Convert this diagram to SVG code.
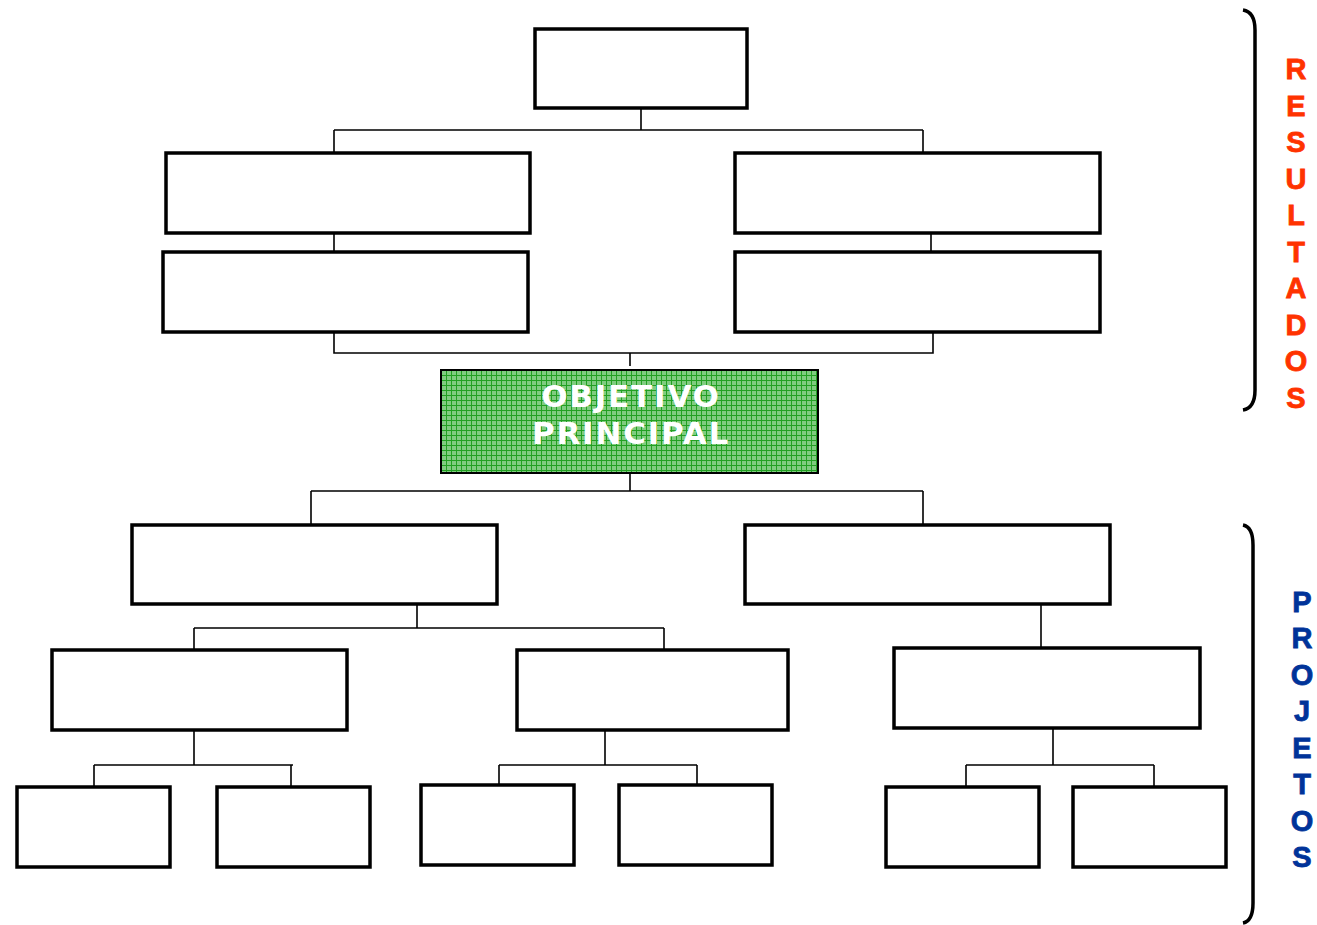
<svg xmlns="http://www.w3.org/2000/svg" width="1317" height="925" viewBox="0 0 1317 925">
<style>
.box{fill:#fff;stroke:#000;stroke-width:3.5}
.ln{fill:none;stroke:#000;stroke-width:1.6}
.br{fill:none;stroke:#000;stroke-width:3.5}
.res{font-family:"Liberation Sans",Arial,sans-serif;font-weight:bold;font-size:29px;fill:#FF3300;stroke:#FF3300;stroke-width:0.8;text-anchor:middle}
.prj{font-family:"Liberation Sans",Arial,sans-serif;font-weight:bold;font-size:29px;fill:#003399;stroke:#003399;stroke-width:0.8;text-anchor:middle}
.obj{font-family:"DejaVu Sans",Verdana,sans-serif;font-weight:bold;font-size:31px;letter-spacing:1.8px;fill:#fff;text-anchor:middle}
</style>
<defs>
<pattern id="grid" x="441" y="370" width="5" height="5" patternUnits="userSpaceOnUse">
<rect width="5" height="5" fill="#80CC80"/>
<path d="M0 0.5H5M0.5 0V5" stroke="#22A022" stroke-width="1"/>
</pattern>
</defs>
<rect width="1317" height="925" fill="#fff"/>
<g id="connectors">
<path class="ln" d="M641 108V130M334 130H923M334 130V153M923 130V153"/>
<path class="ln" d="M334 233V252M931 233V252"/>
<path class="ln" d="M334 332V353H933V332M630 353V366"/>
<path class="ln" d="M630 473V491M311 491H923M311 491V525M923 491V525"/>
<path class="ln" d="M417 604V628M194 628H664M194 628V650M664 628V650"/>
<path class="ln" d="M1041 604V648"/>
<path class="ln" d="M194 730V765M94 765H293M94 765V787M291 765V787"/>
<path class="ln" d="M605 730V765M499 765H697M499 765V785M697 765V785"/>
<path class="ln" d="M1053 728V765M966 765H1154M966 765V787M1154 765V787"/>
</g>
<g id="n-top"><rect class="box" x="535" y="29" width="212" height="79"/></g>
<g id="n-r2-left"><rect class="box" x="166" y="153" width="364" height="80"/></g>
<g id="n-r2-right"><rect class="box" x="735" y="153" width="365" height="80"/></g>
<g id="n-r3-left"><rect class="box" x="163" y="252" width="365" height="80"/></g>
<g id="n-r3-right"><rect class="box" x="735" y="252" width="365" height="80"/></g>
<g id="n-objetivo">
<rect x="441" y="370" width="377" height="103" fill="url(#grid)" stroke="#000" stroke-width="2"/>
<text class="obj" x="631" y="407">OBJETIVO</text>
<text class="obj" x="631" y="444">PRINCIPAL</text>
</g>
<g id="n-p1-left"><rect class="box" x="132" y="525" width="365" height="79"/></g>
<g id="n-p1-right"><rect class="box" x="745" y="525" width="365" height="79"/></g>
<g id="n-p2-a"><rect class="box" x="52" y="650" width="295" height="80"/></g>
<g id="n-p2-b"><rect class="box" x="517" y="650" width="271" height="80"/></g>
<g id="n-p2-c"><rect class="box" x="894" y="648" width="306" height="80"/></g>
<g id="n-p3-a1"><rect class="box" x="17" y="787" width="153" height="80"/></g>
<g id="n-p3-a2"><rect class="box" x="217" y="787" width="153" height="80"/></g>
<g id="n-p3-b1"><rect class="box" x="421" y="785" width="153" height="80"/></g>
<g id="n-p3-b2"><rect class="box" x="619" y="785" width="153" height="80"/></g>
<g id="n-p3-c1"><rect class="box" x="886" y="787" width="153" height="80"/></g>
<g id="n-p3-c2"><rect class="box" x="1073" y="787" width="153" height="80"/></g>
<g id="resultados">
<path class="br" d="M1243 10Q1255 12 1255 30V390Q1255 408 1243 410"/>
<text class="res" x="1296" y="79">R</text>
<text class="res" x="1296" y="116">E</text>
<text class="res" x="1296" y="152">S</text>
<text class="res" x="1296" y="189">U</text>
<text class="res" x="1296" y="225">L</text>
<text class="res" x="1296" y="262">T</text>
<text class="res" x="1296" y="298">A</text>
<text class="res" x="1296" y="335">D</text>
<text class="res" x="1296" y="371">O</text>
<text class="res" x="1296" y="408">S</text>
</g>
<g id="projetos">
<path class="br" d="M1243 525Q1253 527 1253 545V903Q1253 921 1243 923"/>
<text class="prj" x="1302" y="612">P</text>
<text class="prj" x="1302" y="648">R</text>
<text class="prj" x="1302" y="685">O</text>
<text class="prj" x="1302" y="721">J</text>
<text class="prj" x="1302" y="758">E</text>
<text class="prj" x="1302" y="794">T</text>
<text class="prj" x="1302" y="831">O</text>
<text class="prj" x="1302" y="867">S</text>
</g>
</svg>
